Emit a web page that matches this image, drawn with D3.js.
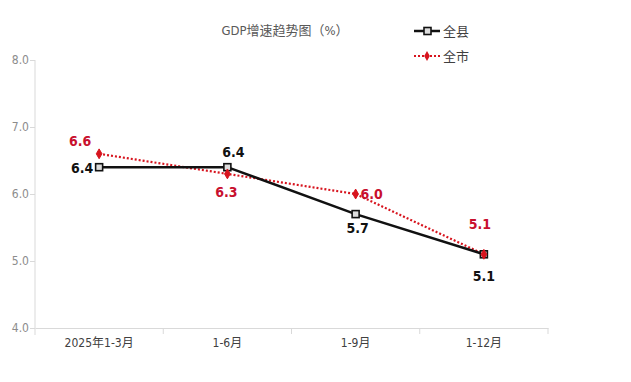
<!DOCTYPE html>
<html><head><meta charset="utf-8">
<script src="https://cdn.jsdelivr.net/npm/d3@7"></script>
<style>
body{margin:0;background:#fff;}
text{font-family:"DejaVu Sans Condensed","Noto Sans CJK SC",sans-serif;}
</style></head>
<body><svg id="c" width="631" height="382"></svg>
<script>
const categories = ["2025年1-3月","1-6月","1-9月","1-12月"];
const countyValues = [6.4, 6.4, 5.7, 5.1];
const cityValues = [6.6, 6.3, 6.0, 5.1];
const yTicks = [4.0, 5.0, 6.0, 7.0, 8.0];
const seriesNames = ["全县","全市"];
const title = "GDP增速趋势图（%）";

const svg = d3.select("#c");
const x = d3.scaleBand().domain(categories).range([35, 548]);
const y = d3.scaleLinear().domain([4, 8]).range([328, 60]);
const cx = d => x(d) + x.bandwidth()/2;
const numFont = "DejaVu Sans Condensed, sans-serif";

// y axis
const ya = svg.append("g").attr("transform","translate(35,0)")
  .call(d3.axisLeft(y).tickValues(yTicks).tickFormat(d3.format(".1f")).tickSize(5).tickSizeOuter(0));
ya.select(".domain").attr("stroke","#d9d9d9").attr("d","M0,60V335");
ya.selectAll(".tick line").attr("stroke","#d9d9d9");
ya.selectAll(".tick text").attr("fill","#8c8c8c").attr("font-size",12).attr("x",-6)
  .style("font-family",numFont);

// x axis
const xa = svg.append("g").attr("transform","translate(0,328)")
  .call(d3.axisBottom(x).tickSize(0).tickSizeOuter(0));
xa.select(".domain").attr("stroke","#d9d9d9");
xa.selectAll(".tick text").attr("fill","#404040").attr("font-size",12).attr("dy","1.35em")
  .style("font-family","DejaVu Sans Condensed, Noto Sans CJK SC, sans-serif");
const bounds = categories.map(c => x(c)).concat([x.range()[1]]);
xa.selectAll(".btick").data(bounds.slice(1)).enter().append("line")
  .attr("x1",d=>d).attr("x2",d=>d).attr("y1",0).attr("y2",6).attr("stroke","#d9d9d9");

// title
svg.append("text").attr("x",285).attr("y",35).attr("text-anchor","middle")
  .attr("fill","#595959").attr("font-size",13)
  .style("font-family","DejaVu Sans Condensed, Noto Sans CJK SC, sans-serif").text(title);

// lines
const line = (vals) => d3.line().x((d,i)=>cx(categories[i])).y(d=>y(d))(vals);
svg.append("path").attr("d",line(cityValues)).attr("fill","none")
  .attr("stroke","#d7141e").attr("stroke-width",2.2).attr("stroke-dasharray","2,2");
svg.append("path").attr("d",line(countyValues)).attr("fill","none")
  .attr("stroke","#111").attr("stroke-width",2.5);

// markers
countyValues.forEach((v,i)=>{
  svg.append("rect").attr("x",cx(categories[i])-3.5).attr("y",y(v)-3.5)
    .attr("width",7).attr("height",7).attr("fill","#ddd").attr("stroke","#111").attr("stroke-width",1.6);
});
cityValues.forEach((v,i)=>{
  svg.append("path").attr("transform",`translate(${cx(categories[i])},${y(v)})`)
    .attr("d",d3.symbol(d3.symbolDiamond,28)()).attr("fill","#d7141e").attr("stroke","#d7141e");
});

// labels
const countyPos = [[-17,6],[6,-10],[2,19],[0,27]];
const cityPos = [[-19,-8],[-1,23],[16,5],[-4,-25]];
countyValues.forEach((v,i)=>{
  svg.append("text").attr("x",cx(categories[i])+countyPos[i][0]).attr("y",y(v)+countyPos[i][1])
    .attr("text-anchor","middle").attr("font-size",14).attr("font-weight","bold")
    .attr("fill","#111").style("font-family",numFont).text(d3.format(".1f")(v));
});
cityValues.forEach((v,i)=>{
  svg.append("text").attr("x",cx(categories[i])+cityPos[i][0]).attr("y",y(v)+cityPos[i][1])
    .attr("text-anchor","middle").attr("font-size",14).attr("font-weight","bold")
    .attr("fill","#c8102e").style("font-family",numFont).text(d3.format(".1f")(v));
});

// legend
const lg = svg.append("g");
lg.append("line").attr("x1",414).attr("x2",440).attr("y1",31).attr("y2",31).attr("stroke","#111").attr("stroke-width",2.5);
lg.append("rect").attr("x",424).attr("y",27.5).attr("width",7).attr("height",7).attr("fill","#ddd").attr("stroke","#111").attr("stroke-width",1.6);
lg.append("text").attr("x",443).attr("y",36).attr("font-size",13).attr("fill","#404040")
  .style("font-family","Noto Sans CJK SC, sans-serif").text(seriesNames[0]);
lg.append("line").attr("x1",414).attr("x2",440).attr("y1",56).attr("y2",56).attr("stroke","#d7141e").attr("stroke-width",2).attr("stroke-dasharray","2,2");
lg.append("path").attr("transform","translate(427,56)").attr("d",d3.symbol(d3.symbolDiamond,28)()).attr("fill","#d7141e");
lg.append("text").attr("x",443).attr("y",61).attr("font-size",13).attr("fill","#404040")
  .style("font-family","Noto Sans CJK SC, sans-serif").text(seriesNames[1]);
</script></body></html>
